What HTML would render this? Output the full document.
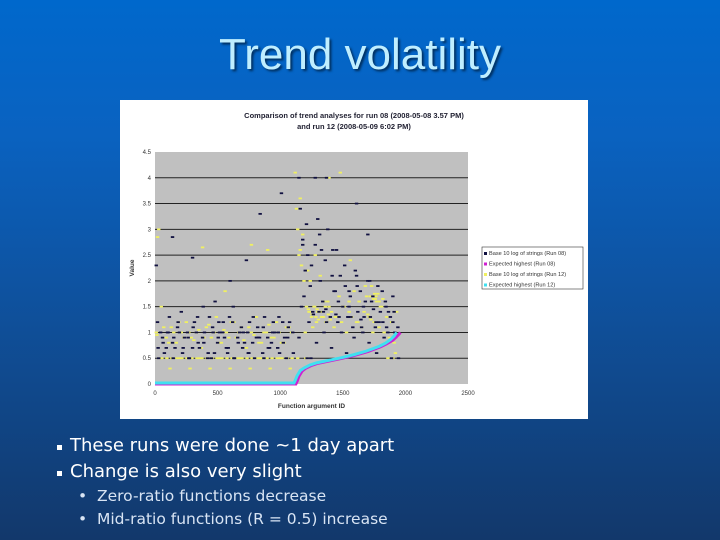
<!DOCTYPE html>
<html><head><meta charset="utf-8"><style>
body{margin:0;width:720px;height:540px;overflow:hidden;background:linear-gradient(#0068cc 0%,#0a62c0 25%,#0f4f99 60%,#12386b 100%);font-family:"DejaVu Sans","Liberation Sans",sans-serif;position:relative}
#title{position:absolute;left:0;width:720px;top:30px;text-align:center;font-family:"Liberation Sans",sans-serif;font-size:44px;color:#bfeeff;text-shadow:2px 2px 2px #003060}
#chart{position:absolute;left:120px;top:100px}
.b{position:absolute;color:#fff;font-size:18px}
.s{position:absolute;color:#d8e4f4;font-size:15.5px}
.m{position:absolute;width:5px;height:5px;background:#fff}
</style></head><body>
<div id="title">Trend volatility</div>
<svg id="chart" width="468" height="319"></svg>
<div class="m" style="left:57px;top:445px"></div>
<div class="b" style="left:70px;top:435px">These runs were done ~1 day apart</div>
<div class="m" style="left:57px;top:471px"></div>
<div class="b" style="left:70px;top:461px">Change is also very slight</div>
<div class="s" style="left:78px;top:487px">•&nbsp;&nbsp;Zero-ratio functions decrease</div>
<div class="s" style="left:78px;top:510px">•&nbsp;&nbsp;Mid-ratio functions (R = 0.5) increase</div>
<script>
const xTicks=[0,500,1000,1500,2000,2500];
const yTicks=[0,0.5,1,1.5,2,2.5,3,3.5,4,4.5];
const yTickLabels=["0","0.5","1","1.5","2","2.5","3","3.5","4","4.5"];
const run08X=[20,60,100,140,180,220,260,300,340,380,420,460,500,540,580,620,660,700,740,780,820,860,900,940,980,1020,1060,1100,30,90,150,210,270,330,390,450,510,570,630,690,750,810,870,930,990,1050,140,300,480,600,730,840,1010,1150,1160,1180,1200,1210,1220,1240,1260,1280,1300,1320,1340,1360,1380,1400,1420,1440,1460,1480,1500,1520,1540,1560,1580,1600,1620,1640,1660,1680,1700,1720,1740,1760,1780,1800,1820,1840,1860,1880,1900,1920,1940,1170,1230,1290,1350,1410,1470,1530,1590,1650,1710,1770,1830,1890,1190,1250,1310,1370,1430,1490,1550,1610,1670,1730,1790,1850,1910,1150,1370,1610,1280,1450,1180,1700,1330,1550,1900,
10,45,75,115,160,195,235,275,315,355,395,435,475,515,555,595,635,675,715,755,795,835,875,915,955,995,1035,1075,25,65,105,145,185,225,265,305,345,385,425,465,505,545,585,625,665,705,745,785,825,865,905,945,985,1025,1065,1105,1215,1265,1315,1365,1415,1465,1515,1565,1615,1665,1715,1765,1815,1865,1915,1945,1245,1345,1445,1545,1645,1745,1845];
const run08Y=[1.2,0.9,1.0,0.8,1.1,0.6,1.0,0.7,1.3,0.9,0.5,1.1,0.8,1.0,0.6,1.2,0.9,0.7,1.0,0.8,1.1,0.6,0.9,1.0,0.7,1.2,0.9,1.0,0.5,0.7,0.9,1.4,0.5,1.0,0.8,0.5,1.2,0.7,0.5,1.1,0.6,0.9,0.5,0.8,1.3,0.5,2.85,2.45,1.6,2.0,2.4,3.3,3.7,4.0,3.4,2.8,2.2,3.1,2.5,1.9,1.4,2.7,3.2,2.0,1.6,2.4,3.0,1.3,2.6,1.8,1.2,2.1,1.5,1.9,1.3,1.7,1.1,2.2,1.4,1.8,1.0,1.6,2.0,1.3,1.7,1.1,1.9,1.4,1.2,1.6,1.0,1.3,1.7,0.9,1.1,1.5,1.2,0.8,1.0,0.7,1.3,0.6,0.9,1.1,0.8,0.6,0.9,0.5,1.7,2.3,1.4,1.2,1.8,1.0,1.5,2.1,1.3,1.6,1.2,1.1,1.4,0.9,4.0,3.5,4.0,2.6,2.7,2.9,2.6,1.8,1.2,2.3,
1.0,0.6,1.3,0.7,1.0,0.9,0.5,1.2,0.7,1.0,1.3,0.6,1.0,0.9,1.3,0.5,1.0,0.8,1.2,0.5,0.9,1.3,0.7,1.0,0.6,0.9,1.2,0.7,0.8,1.0,0.5,1.2,0.7,0.9,1.1,0.8,1.5,0.6,1.0,0.9,1.2,0.7,1.5,0.8,1.0,0.6,1.3,0.9,1.1,0.7,1.2,1.0,0.8,1.1,0.6,0.5,1.35,2.9,1.45,2.1,1.6,2.3,1.3,1.9,1.5,2.0,1.2,1.8,1.4,1.0,0.5,0.5,1.4,1.35,1.3,1.25,1.45,1.5,1.1];
const run12X=[10,50,90,130,170,210,250,290,330,370,410,450,490,530,570,610,650,690,730,770,810,850,890,930,970,1010,1050,1090,40,120,200,280,360,440,520,600,680,760,840,920,1000,1080,20,380,560,770,900,1120,1130,1140,1150,1160,1170,1190,1210,1230,1250,1270,1290,1310,1330,1350,1370,1390,1410,1430,1450,1470,1490,1510,1530,1550,1570,1590,1610,1630,1650,1670,1690,1710,1730,1750,1770,1790,1810,1830,1850,1870,1890,1910,1930,1200,1260,1320,1380,1440,1500,1560,1620,1680,1740,1800,1860,1920,1140,1160,1180,1220,1240,1280,1300,1340,1360,1400,1700,1720,1760,1780,1550,1390,1480,
30,70,110,150,190,230,270,310,350,390,430,470,510,550,590,630,670,710,750,790,830,870,910,950,990,1030,1070,15,55,95,135,175,215,255,295,335,375,415,455,495,535,575,615,655,695,735,775,815,855,895,935,975,1015,1055,1095,1205,1225,1235,1255,1275,1285,1295,1305,1325,1345,1365,1385,1725,1735,1745,1755,1765,1790,1820,1860,1900];
const run12Y=[1.0,1.5,0.9,1.1,0.8,1.0,1.2,0.9,1.0,0.7,1.1,0.9,1.3,0.8,1.0,1.2,0.9,1.1,0.7,1.0,1.3,0.8,1.0,0.9,1.2,0.8,1.1,1.0,0.5,0.3,0.5,0.3,0.5,0.3,0.5,0.3,0.5,0.3,0.5,0.3,0.5,0.3,2.85,2.65,1.8,2.7,2.6,4.1,3.4,3.0,2.5,3.6,2.3,2.0,1.5,1.4,1.3,1.5,1.2,1.4,1.3,1.6,1.2,1.5,1.4,1.1,1.3,1.7,1.2,1.5,1.0,1.4,1.3,1.8,1.2,1.6,1.1,1.4,1.7,1.3,1.9,1.2,1.6,1.1,1.5,1.0,1.3,0.9,1.2,0.8,1.4,1.0,1.1,2.1,1.6,1.3,1.5,2.4,1.2,1.9,1.0,1.5,0.8,0.6,0.5,2.6,2.9,2.2,2.0,2.5,1.4,1.3,1.5,1.25,1.35,1.7,1.65,1.75,1.6,4.0,4.1,3.0,
1.1,0.8,1.0,1.2,0.9,1.0,0.85,1.05,0.9,1.15,1.0,0.8,1.05,0.9,1.2,1.0,0.85,1.1,0.95,0.8,1.0,1.15,0.9,1.0,0.8,1.1,0.95,0.5,0.5,0.5,0.5,0.5,0.5,0.5,0.5,0.5,0.5,0.5,0.5,0.5,0.5,0.5,0.5,0.5,0.5,0.5,0.5,0.5,0.5,0.5,0.5,0.5,0.5,0.5,0.5,1.45,1.4,1.35,1.5,1.3,1.45,1.25,1.4,1.3,1.2,1.35,1.25,1.7,1.65,1.75,1.7,1.6,1.65,0.5,0.5,0.5];
const exp08X=[0,500,1000,1125,1135,1150,1175,1200,1250,1300,1400,1500,1600,1700,1800,1850,1900,1930,1950,1960];
const exp08Y=[0,0,0,0,0.05,0.15,0.25,0.3,0.36,0.4,0.45,0.5,0.56,0.63,0.72,0.78,0.85,0.92,0.97,1.0];
const exp12X=[0,500,1000,1110,1120,1135,1160,1190,1240,1290,1390,1490,1590,1690,1790,1840,1880,1910,1930];
const exp12Y=[0.02,0.02,0.02,0.02,0.07,0.16,0.26,0.31,0.37,0.41,0.46,0.51,0.57,0.64,0.73,0.79,0.86,0.93,1.0];
const legendLabels=["Base 10 log of strings (Run 08)","Expected highest (Run 08)","Base 10 log of strings (Run 12)","Expected highest (Run 12)"];
const legendColors=["#101040","#d020d0","#f0f060","#40e0f0"];

const NS="http://www.w3.org/2000/svg";
const svg=document.getElementById('chart');
const L=35,R=348,T=52,B=284;
const sx=v=>L+v/2500*(R-L);
const sy=v=>B-v/4.5*(B-T);
function el(t,a,p){const e=document.createElementNS(NS,t);for(const k in a)e.setAttribute(k,a[k]);(p||svg).appendChild(e);return e;}
const bg=el('rect',{x:0,y:0,width:468,height:319,fill:'#fff'});


const t1=el('text',{x:234,y:18,'text-anchor':'middle','font-size':7.5,'font-weight':'bold','font-family':'Liberation Sans,sans-serif',fill:'#223'});
t1.textContent='Comparison of trend analyses for run 08 (2008-05-08 3.57 PM)';


const t2=el('text',{x:234,y:29,'text-anchor':'middle','font-size':7.5,'font-weight':'bold','font-family':'Liberation Sans,sans-serif',fill:'#223'});
t2.textContent='and run 12 (2008-05-09 6:02 PM)';


const pa=el('rect',{x:L,y:T,width:R-L,height:B-T,fill:'#c0c0c0'});


yTicks.forEach((v,i)=>{
  if(v>0&&v<4.5){const g=el('line',{x1:L,x2:R,y1:sy(v),y2:sy(v),stroke:'#222','stroke-width':1});
  
  }
  const tl=el('text',{x:L-4,y:sy(v)+2,'text-anchor':'end','font-size':6,'font-family':'Liberation Sans,sans-serif',fill:'#333'});
  tl.textContent=yTickLabels[i];
  
  
});
xTicks.forEach(v=>{
  const tl=el('text',{x:sx(v),y:B+11,'text-anchor':'middle','font-size':6,'font-family':'Liberation Sans,sans-serif',fill:'#333'});
  tl.textContent=String(v);
  
  
});
const xt=el('text',{x:(L+R)/2,y:B+24,'text-anchor':'middle','font-size':6.5,'font-weight':'bold','font-family':'Liberation Sans,sans-serif',fill:'#333'});
xt.textContent='Function argument ID';


const yt=el('text',{x:14,y:168,'text-anchor':'middle','font-size':6.5,'font-weight':'bold','font-family':'Liberation Sans,sans-serif',fill:'#333',transform:'rotate(-90 14 168)'});
yt.textContent='Value';


function scatter(xs,ys,c,name){xs.forEach((x,i)=>{const r=el('rect',{x:sx(x)-1.7,y:sy(ys[i])-0.9,width:3.4,height:1.8,fill:c});

});}
scatter(run12X,run12Y,'#f0f060','point-run-12');
scatter(run08X,run08Y,'#101040','point-run-08');
function curve(xs,ys,c,name){const p=el('polyline',{points:xs.map((x,i)=>sx(x)+','+sy(ys[i])).join(' '),fill:'none',stroke:c,'stroke-width':3});

}
curve(exp08X,exp08Y,'#d020d0','expected-highest-run-08');
curve(exp12X,exp12Y,'#40e0f0','expected-highest-run-12');
const lg=el('rect',{x:362,y:147,width:101,height:42,fill:'#fff',stroke:'#333','stroke-width':0.6});


legendLabels.forEach((s,i)=>{
  const y=155+i*10.5;
  const m=el('rect',{x:364,y:y-3,width:3,height:3,fill:legendColors[i]});
  
  
  const t=el('text',{x:369,y:y,'font-size':5.6,'font-family':'Liberation Sans,sans-serif',fill:'#333'});
  t.textContent=s;
  
  
});
</script>
</body></html>
